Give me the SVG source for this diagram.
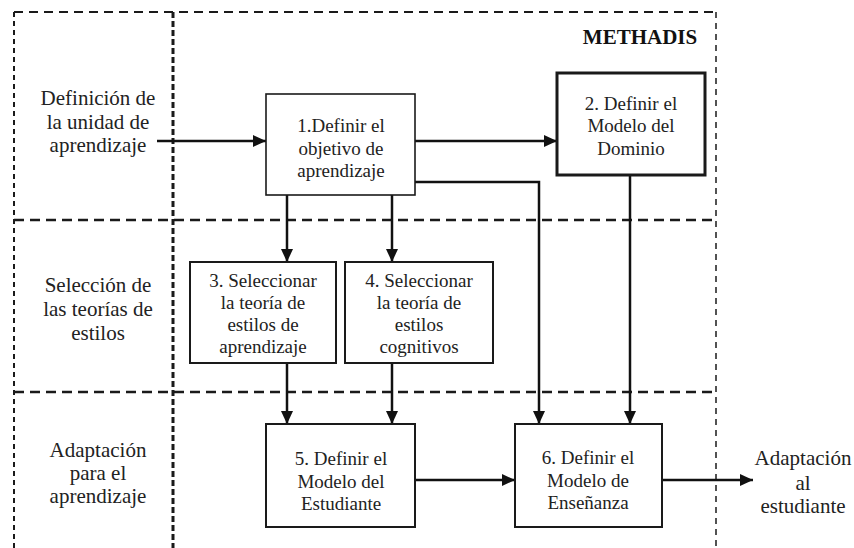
<svg xmlns="http://www.w3.org/2000/svg" width="854" height="548" viewBox="0 0 854 548">
<defs>
<marker id="ah" markerUnits="userSpaceOnUse" markerWidth="13" markerHeight="12" viewBox="0 0 13 12" refX="13" refY="6" orient="auto">
<path d="M0,0 L13,6 L0,12 Z" fill="#111"/>
</marker>
<style>
.frame{fill:none;stroke:#1a1a1a}
.box{fill:#fff;stroke:#1a1a1a}
.lbl{font-family:'Liberation Serif','DejaVu Serif',serif;font-size:21px;font-weight:normal;fill:#222;text-anchor:middle}
.bt{font-family:'Liberation Serif','DejaVu Serif',serif;font-size:19px;font-weight:normal;fill:#222;text-anchor:middle}
.ttl{font-family:'Liberation Serif','DejaVu Serif',serif;font-size:21px;font-weight:bold;fill:#111;text-anchor:middle}
.con{fill:none;stroke:#111;stroke-width:2.5}
</style>
</defs>
<rect width="854" height="548" fill="#fff"/>
<g id="frame">
<line class="frame" x1="14" y1="12" x2="716" y2="12" stroke-width="2" stroke-dasharray="9 6"/>
<line class="frame" x1="14" y1="12" x2="14" y2="548" stroke-width="2" stroke-dasharray="5 4"/>
<line class="frame" x1="173" y1="12" x2="173" y2="548" stroke-width="3" stroke-dasharray="6 3"/>
<line class="frame" x1="716" y1="12" x2="716" y2="548" stroke-width="1.5" stroke-dasharray="6 5"/>
<line class="frame" x1="14" y1="220" x2="716" y2="220" stroke-width="2.5" stroke-dasharray="10 6"/>
<line class="frame" x1="14" y1="392" x2="716" y2="392" stroke-width="2.5" stroke-dasharray="10 6"/>
<text class="ttl" x="640" y="44">METHADIS</text>
</g>
<g id="row-labels">
<text class="lbl" x="98" y="105">Definición de</text>
<text class="lbl" x="98" y="129">la unidad de</text>
<text class="lbl" x="98" y="152">aprendizaje</text>
<text class="lbl" x="98" y="292">Selección de</text>
<text class="lbl" x="98" y="316">las teorías de</text>
<text class="lbl" x="98" y="340">estilos</text>
<text class="lbl" x="98" y="457">Adaptación</text>
<text class="lbl" x="98" y="480">para el</text>
<text class="lbl" x="98" y="503">aprendizaje</text>
</g>
<g id="connectors">
<line class="con" x1="157" y1="141" x2="266" y2="141" marker-end="url(#ah)"/>
<line class="con" x1="415" y1="141" x2="557" y2="141" marker-end="url(#ah)"/>
<polyline class="con" points="415,182 539,182 539,424" stroke-width="2" marker-end="url(#ah)"/>
<line class="con" x1="630" y1="175" x2="630" y2="424" marker-end="url(#ah)"/>
<line class="con" x1="287" y1="195" x2="287" y2="262" marker-end="url(#ah)"/>
<line class="con" x1="392" y1="195" x2="392" y2="262" marker-end="url(#ah)"/>
<line class="con" x1="287" y1="363" x2="287" y2="424" marker-end="url(#ah)"/>
<line class="con" x1="392" y1="363" x2="392" y2="424" marker-end="url(#ah)"/>
<line class="con" x1="415" y1="480" x2="515" y2="480" marker-end="url(#ah)"/>
<line class="con" x1="662" y1="480" x2="753" y2="480" marker-end="url(#ah)"/>
</g>
<g id="n1">
<rect class="box" x="266" y="94" width="149" height="101" stroke-width="1.6"/>
<text class="bt" x="341" y="132">1.Definir el</text>
<text class="bt" x="341" y="155">objetivo de</text>
<text class="bt" x="341" y="177">aprendizaje</text>
</g>
<g id="n2">
<rect class="box" x="557" y="73" width="148" height="102" stroke-width="3"/>
<text class="bt" x="631" y="110">2. Definir el</text>
<text class="bt" x="631" y="132">Modelo del</text>
<text class="bt" x="631" y="155">Dominio</text>
</g>
<g id="n3">
<rect class="box" x="190" y="262" width="146" height="101" stroke-width="2"/>
<text class="bt" x="263" y="287">3. Seleccionar</text>
<text class="bt" x="263" y="309">la teoría de</text>
<text class="bt" x="263" y="331">estilos de</text>
<text class="bt" x="263" y="353">aprendizaje</text>
</g>
<g id="n4">
<rect class="box" x="345" y="262" width="148" height="101" stroke-width="2"/>
<text class="bt" x="419" y="287">4. Seleccionar</text>
<text class="bt" x="419" y="309">la teoría de</text>
<text class="bt" x="419" y="331">estilos</text>
<text class="bt" x="419" y="353">cognitivos</text>
</g>
<g id="n5">
<rect class="box" x="266" y="424" width="149" height="103" stroke-width="2"/>
<text class="bt" x="341" y="465">5. Definir el</text>
<text class="bt" x="341" y="488">Modelo del</text>
<text class="bt" x="341" y="510">Estudiante</text>
</g>
<g id="n6">
<rect class="box" x="515" y="424" width="147" height="103" stroke-width="2"/>
<text class="bt" x="588" y="464">6. Definir el</text>
<text class="bt" x="588" y="487">Modelo de</text>
<text class="bt" x="588" y="509">Enseñanza</text>
</g>
<g id="output">
<text class="lbl" x="803" y="465">Adaptación</text>
<text class="lbl" x="803" y="490">al</text>
<text class="lbl" x="803" y="513">estudiante</text>
</g>
</svg>
